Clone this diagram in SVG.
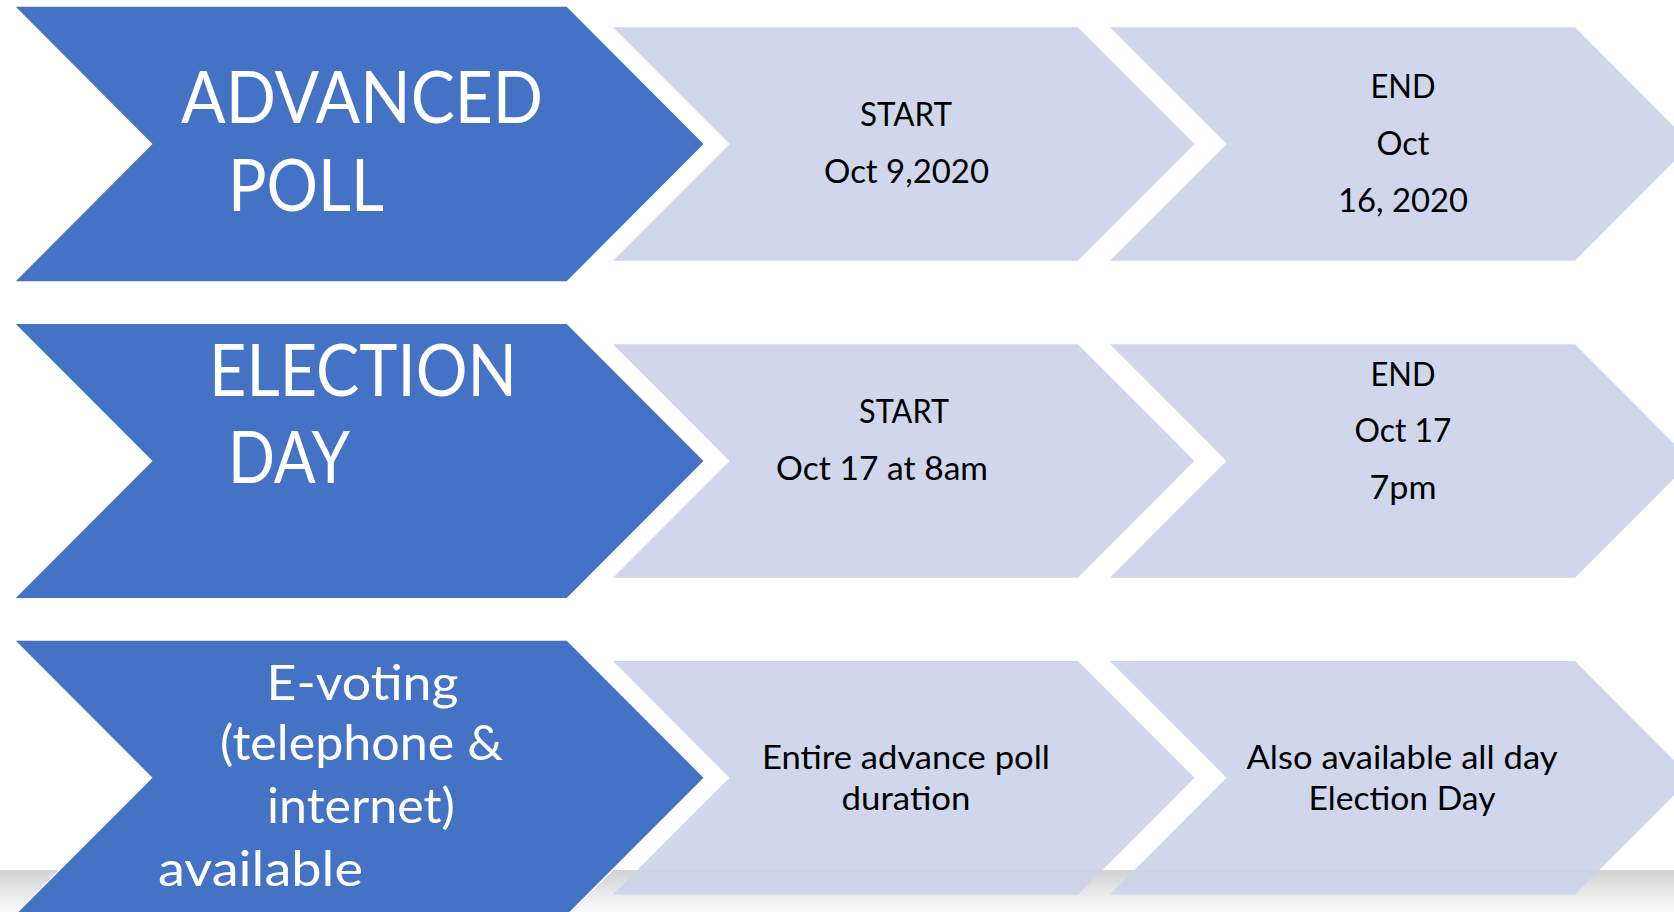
<svg xmlns="http://www.w3.org/2000/svg" width="1674" height="912" viewBox="0 0 1674 912">
<defs>
<linearGradient id="band" x1="0" y1="0" x2="0" y2="1">
<stop offset="0" stop-color="#d2d2d2"/>
<stop offset="1" stop-color="#fbfbfb"/>
</linearGradient>
<style>
.blue{fill:#4472c4;stroke:#ffffff;stroke-width:1.5}
.light{fill:#cbd3ea;fill-opacity:0.9;stroke:none}
.wt{fill:#ffffff;font-family:Lato,"Open Sans",sans-serif}
.big{font-size:71px}
.mid{font-size:48px}
.bk{fill:#000000;font-family:Lato,"Open Sans",sans-serif;font-size:33px}
.bkc{fill:#000000;font-family:Lato,"Open Sans",sans-serif;font-size:33px;text-anchor:middle}
</style>
</defs>
<rect x="0" y="0" width="1674" height="912" fill="#ffffff"/>
<rect x="0" y="870" width="1674" height="42" fill="url(#band)"/>

<g id="row1-label">
<polygon class="blue" points="14,6 567,6 704.5,144 567,282 14,282 151.5,144"/>
<text class="wt big" x="181" y="123" textLength="362" lengthAdjust="spacingAndGlyphs">ADVANCED</text>
<text class="wt big" x="228" y="210.5" textLength="156" lengthAdjust="spacingAndGlyphs">POLL</text>
</g>
<g id="row1-start">
<polygon class="light" points="613,27.3 1078,27.3 1194.5,144 1078,260.7 613,260.7 729.5,144"/>
<text class="bk" x="860" y="126" textLength="92" lengthAdjust="spacingAndGlyphs">START</text>
<text class="bk" x="824" y="183" textLength="165" lengthAdjust="spacingAndGlyphs">Oct 9,2020</text>
</g>
<g id="row1-end">
<polygon class="light" points="1110,27.3 1575,27.3 1691.5,144 1575,260.7 1110,260.7 1226.5,144"/>
<text class="bkc" x="1403" y="98" textLength="65" lengthAdjust="spacingAndGlyphs">END</text>
<text class="bkc" x="1403" y="155" textLength="53" lengthAdjust="spacingAndGlyphs">Oct</text>
<text class="bkc" x="1403" y="212" textLength="130" lengthAdjust="spacingAndGlyphs">16, 2020</text>
</g>

<g id="row2-label">
<polygon class="blue" points="14,323.3 567,323.3 704.5,461 567,598.7 14,598.7 151.5,461"/>
<text class="wt big" x="209" y="396" textLength="308" lengthAdjust="spacingAndGlyphs">ELECTION</text>
<text class="wt big" x="228" y="482.7" textLength="122" lengthAdjust="spacingAndGlyphs">DAY</text>
</g>
<g id="row2-start">
<polygon class="light" points="613,344.3 1078,344.3 1194.5,461 1078,577.7 613,577.7 729.5,461"/>
<text class="bk" x="859" y="422.7" textLength="90" lengthAdjust="spacingAndGlyphs">START</text>
<text class="bk" x="776" y="480" textLength="212" lengthAdjust="spacingAndGlyphs">Oct 17 at 8am</text>
</g>
<g id="row2-end">
<polygon class="light" points="1110,344.3 1575,344.3 1691.5,461 1575,577.7 1110,577.7 1226.5,461"/>
<text class="bkc" x="1403" y="385.5" textLength="65" lengthAdjust="spacingAndGlyphs">END</text>
<text class="bkc" x="1403" y="442" textLength="97" lengthAdjust="spacingAndGlyphs">Oct 17</text>
<text class="bkc" x="1403" y="498.7" textLength="67" lengthAdjust="spacingAndGlyphs">7pm</text>
</g>

<g id="row3-label">
<polygon class="blue" points="14,640 567,640 704.5,777.7 567,915.4 14,915.4 151.5,777.7"/>
<text class="wt mid" x="266.5" y="700" textLength="192" lengthAdjust="spacingAndGlyphs">E-voting</text>
<text class="wt mid" x="220" y="760" textLength="283" lengthAdjust="spacingAndGlyphs">(telephone &amp;</text>
<text class="wt mid" x="267" y="823.3" textLength="188" lengthAdjust="spacingAndGlyphs">internet)</text>
<text class="wt mid" x="158" y="886" textLength="205" lengthAdjust="spacingAndGlyphs">available</text>
</g>
<g id="row3-start">
<polygon class="light" points="613,661 1078,661 1194.5,777.7 1078,894.4 613,894.4 729.5,777.7"/>
<text class="bk" x="762" y="769.3" textLength="288" lengthAdjust="spacingAndGlyphs">Entire advance poll</text>
<text class="bk" x="841.5" y="810" textLength="129" lengthAdjust="spacingAndGlyphs">duration</text>
</g>
<g id="row3-end">
<polygon class="light" points="1110,661 1575,661 1691.5,777.7 1575,894.4 1110,894.4 1226.5,777.7"/>
<text class="bkc" x="1402" y="769.3" textLength="311" lengthAdjust="spacingAndGlyphs">Also available all day</text>
<text class="bkc" x="1402" y="810" textLength="187" lengthAdjust="spacingAndGlyphs">Election Day</text>
</g>
</svg>
